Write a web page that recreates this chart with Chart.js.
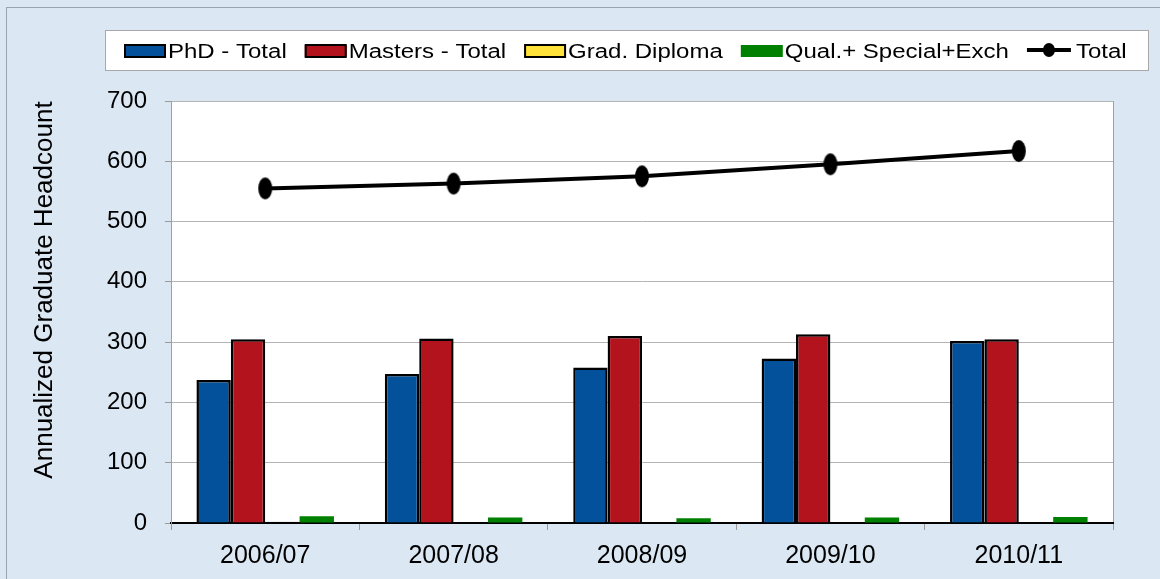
<!DOCTYPE html>
<html>
<head>
<meta charset="utf-8">
<script src="https://cdn.jsdelivr.net/npm/chart.js@4.4.1/dist/chart.umd.min.js"></script>
<style>
  body { margin: 0; background: #dbe8f4; }
  #wrap { width: 1160px; height: 579px; }
</style>
</head>
<body>
<div id="wrap"><canvas id="myChart" width="1160" height="579"></canvas></div>
<script>
// values
const years = ['2006/07', '2007/08', '2008/09', '2009/10', '2010/11'];
const phdTotal = [237, 247, 258, 273, 302];
const mastersTotal = [305, 306, 310, 313, 305];
const gradDiploma = [2, 0, 0, 0, 0];
const qualSpecialExch = [11, 9, 8, 9, 10];
const grandTotal = [555, 563, 575, 595, 617];
const yTicks = [0, 100, 200, 300, 400, 500, 600, 700];

const FONT = "'Liberation Sans', Arial, sans-serif";

// slightly tall ellipse used as the point marker of the Total line
const dot = document.createElement('canvas');
dot.width = 16;
dot.height = 24;
const dctx = dot.getContext('2d');
dctx.fillStyle = '#000';
dctx.beginPath();
dctx.ellipse(8, 12, 7, 11, 0, 0, Math.PI * 2);
dctx.fill();

const legendItems = [
  { text: 'PhD - Total', fill: '#03519b', border: '#000' },
  { text: 'Masters - Total', fill: '#b3131d', border: '#000' },
  { text: 'Grad. Diploma', fill: '#ffe23a', border: '#000' },
  { text: 'Qual.+ Special+Exch', fill: '#008000', border: null },
  { text: 'Total', line: true }
];

const backdrop = {
  id: 'backdrop',
  beforeDraw(chart) {
    const ctx = chart.ctx;
    const a = chart.chartArea;
    ctx.save();
    ctx.fillStyle = '#dbe8f4';
    ctx.fillRect(0, 0, chart.width, chart.height);
    ctx.strokeStyle = '#9aa4ae';
    ctx.lineWidth = 1;
    ctx.strokeRect(6.5, 7.5, chart.width - 4, chart.height);
    // plot area
    ctx.fillStyle = '#fff';
    ctx.fillRect(a.left, a.top, a.right - a.left, a.bottom - a.top);
    ctx.strokeStyle = '#a0a0a0';
    ctx.strokeRect(a.left + 0.5, a.top + 0.5, a.right - a.left, a.bottom - a.top);
    ctx.restore();
  },
  afterDraw(chart) {
    const ctx = chart.ctx;
    ctx.save();
    // legend box
    ctx.fillStyle = '#fff';
    ctx.fillRect(105, 30, 1043, 40);
    ctx.strokeStyle = '#a8a8a8';
    ctx.lineWidth = 1;
    ctx.strokeRect(105.5, 30.5, 1043, 40);

    ctx.font = '20px ' + FONT;
    ctx.textBaseline = 'alphabetic';
    let x = 124;
    const cy = 50;
    legendItems.forEach((it) => {
      if (it.line) {
        ctx.strokeStyle = '#000';
        ctx.lineWidth = 4;
        ctx.beginPath();
        ctx.moveTo(x, cy);
        ctx.lineTo(x + 44, cy);
        ctx.stroke();
        ctx.fillStyle = '#000';
        ctx.beginPath();
        ctx.ellipse(x + 22, cy, 6, 7, 0, 0, Math.PI * 2);
        ctx.fill();
        x += 49;
      } else {
        ctx.fillStyle = it.fill;
        ctx.fillRect(x, 45, 42, 12);
        if (it.border) {
          ctx.strokeStyle = it.border;
          ctx.lineWidth = 2;
          ctx.strokeRect(x + 1, 45, 40, 12);
        }
        x += 44;
      }
      ctx.fillStyle = '#000';
      ctx.save();
      ctx.translate(x, 57.5);
      ctx.scale(1.2, 1);
      ctx.fillText(it.text, 0, 0);
      ctx.restore();
      x += ctx.measureText(it.text).width * 1.2 + 18;
    });

    // y axis title
    ctx.fillStyle = '#000';
    ctx.font = '26px ' + FONT;
    ctx.textAlign = 'center';
    ctx.textBaseline = 'middle';
    ctx.translate(45, 290);
    ctx.rotate(-Math.PI / 2);
    ctx.fillText('Annualized Graduate Headcount', 0, 0);
    ctx.restore();
  }
};

const ctx = document.getElementById('myChart').getContext('2d');
const myChart = new Chart(ctx, {
  data: {
    labels: years,
    datasets: [
      {
        type: 'line',
        label: 'Total',
        data: grandTotal,
        borderColor: '#000',
        backgroundColor: '#000',
        borderWidth: 4,
        pointStyle: dot,
        order: 0
      },
      {
        type: 'bar',
        label: 'PhD - Total',
        data: phdTotal,
        backgroundColor: '#03519b',
        borderColor: '#000',
        borderWidth: 2.5,
        order: 1
      },
      {
        type: 'bar',
        label: 'Masters - Total',
        data: mastersTotal,
        backgroundColor: '#b3131d',
        borderColor: '#000',
        borderWidth: 2.5,
        order: 1
      },
      {
        type: 'bar',
        label: 'Grad. Diploma',
        data: gradDiploma,
        backgroundColor: '#ffe23a',
        borderColor: '#000',
        borderWidth: 2.5,
        borderSkipped: false,
        order: 1
      },
      {
        type: 'bar',
        label: 'Qual.+ Special+Exch',
        data: qualSpecialExch,
        backgroundColor: '#008000',
        borderWidth: 0,
        order: 1
      }
    ]
  },
  plugins: [backdrop],
  options: {
    responsive: false,
    animation: false,
    layout: { padding: { top: 101, right: 47, bottom: 6, left: 71 } },
    datasets: {
      bar: { categoryPercentage: 0.73, barPercentage: 1 }
    },
    plugins: {
      legend: { display: false },
      tooltip: { enabled: false }
    },
    scales: {
      x: {
        offset: true,
        afterFit(scale) { scale.height = 50; },
        grid: {
          offset: true,
          drawOnChartArea: false,
          color: '#999',
          tickLength: 7
        },
        border: { color: '#000', width: 2 },
        ticks: {
          color: '#000',
          padding: 11,
          font: { family: FONT, size: 25 }
        }
      },
      y: {
        min: 0,
        max: 700,
        afterFit(scale) { scale.width = 100; },
        afterBuildTicks(scale) {
          scale.ticks = yTicks.map((v) => ({ value: v }));
        },
        grid: {
          color: '#b4b4b4',
          tickLength: 6,
          tickColor: '#999'
        },
        border: { color: '#a0a0a0', width: 1 },
        ticks: {
          color: '#000',
          padding: 18,
          font: { family: FONT, size: 24 }
        }
      }
    }
  }
});
</script>
</body>
</html>
